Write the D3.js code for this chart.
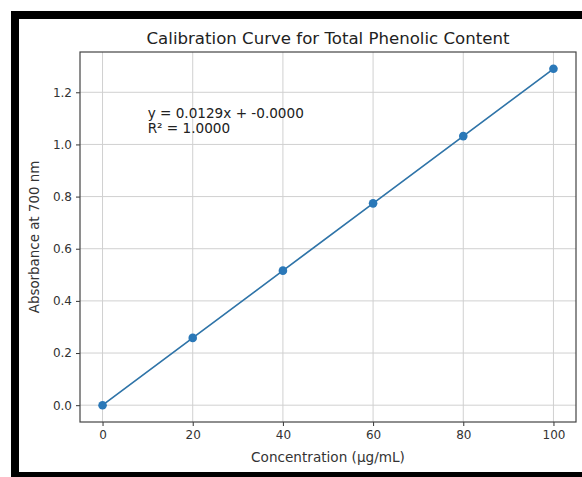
<!DOCTYPE html>
<html><head><meta charset="utf-8">
<script src="https://cdn.jsdelivr.net/npm/d3@7"></script>
<style>
html,body{margin:0;padding:0;background:#fff;overflow:hidden;}
svg{display:block;font-family:"DejaVu Sans",sans-serif;}
</style></head>
<body>
<svg id="c" width="582" height="477"></svg>
<script>
const concentrations = [0, 20, 40, 60, 80, 100];
const absorbances = [0.0, 0.258, 0.516, 0.774, 1.032, 1.29];
const xTicks = [0, 20, 40, 60, 80, 100];
const yTicks = [0.0, 0.2, 0.4, 0.6, 0.8, 1.0, 1.2];
const titleText = "Calibration Curve for Total Phenolic Content";
const xLabel = "Concentration (µg/mL)";
const yLabel = "Absorbance at 700 nm";
const eqLines = ["y = 0.0129x + -0.0000", "R² = 1.0000"];

const svg = d3.select("#c");
// black frame
svg.append("rect").attr("x",11).attr("y",11).attr("width",571).attr("height",8).attr("fill","#000");
svg.append("rect").attr("x",11).attr("y",11).attr("width",8).attr("height",466).attr("fill","#000");
svg.append("rect").attr("x",11).attr("y",472).attr("width",571).attr("height",5).attr("fill","#000");

const L=80, R=576, T=52, B=422;
const x = d3.scaleLinear().domain([-5,105]).range([L,R]);
const y = d3.scaleLinear().domain([-0.0645,1.3545]).range([B,T]);

const g = svg.append("g");
// grid
g.selectAll(".gx").data(xTicks).enter().append("line")
 .attr("x1",d=>x(d)).attr("x2",d=>x(d)).attr("y1",T).attr("y2",B)
 .attr("stroke","#d0d0d0").attr("stroke-width",1);
g.selectAll(".gy").data(yTicks).enter().append("line")
 .attr("y1",d=>y(d)).attr("y2",d=>y(d)).attr("x1",L).attr("x2",R)
 .attr("stroke","#d0d0d0").attr("stroke-width",1);

// axes
const xa = svg.append("g").attr("transform",`translate(0,${B})`)
 .call(d3.axisBottom(x).tickValues(xTicks).tickFormat(d3.format("d")).tickSize(4).tickPadding(4));
const ya = svg.append("g").attr("transform",`translate(${L},0)`)
 .call(d3.axisLeft(y).tickValues(yTicks).tickFormat(d3.format(".1f")).tickSize(4).tickPadding(4));
[xa,ya].forEach(a=>{
  a.select(".domain").remove();
  a.selectAll("text").attr("font-size",12).attr("fill","#333").attr("font-family","DejaVu Sans");
  a.selectAll("line").attr("stroke","#333");
});
svg.append("rect").attr("x",L).attr("y",T).attr("width",R-L).attr("height",B-T)
 .attr("fill","none").attr("stroke","#444").attr("stroke-width",1.2);

// line + points
const pts = concentrations.map((c,i)=>[c,absorbances[i]]);
svg.append("path").datum(pts)
 .attr("d", d3.line().x(d=>x(d[0])).y(d=>y(d[1])))
 .attr("fill","none").attr("stroke","#2f74a8").attr("stroke-width",1.7);
svg.selectAll(".pt").data(pts).enter().append("circle")
 .attr("cx",d=>x(d[0])).attr("cy",d=>y(d[1])).attr("r",4.3).attr("fill","#2a78b8");

// equation text
svg.append("text").attr("x",x(10)).attr("y",y(1.1)+0)
 .attr("font-size",13.6).attr("fill","#222")
 .selectAll("tspan").data(eqLines).enter().append("tspan")
 .attr("x",x(10)).attr("dy",(d,i)=>i?14.5:0).text(d=>d);

// title & labels
svg.append("text").attr("x",(L+R)/2).attr("y",44).attr("text-anchor","middle")
 .attr("font-size",16.6).attr("fill","#222").text(titleText);
svg.append("text").attr("x",(L+R)/2).attr("y",462).attr("text-anchor","middle")
 .attr("font-size",13.6).attr("fill","#333").text(xLabel);
svg.append("text").attr("transform",`translate(39,${(T+B)/2}) rotate(-90)`).attr("text-anchor","middle")
 .attr("font-size",13.4).attr("fill","#333").text(yLabel);
</script>
</body></html>
